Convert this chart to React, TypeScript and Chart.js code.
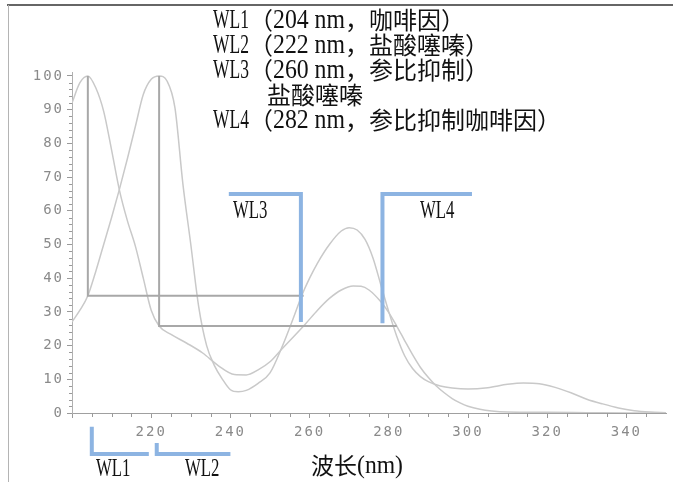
import { useEffect, useRef } from "react";
import { Chart, registerables } from "chart.js";

Chart.register(...registerables);

// Spectrum 1: caffeine (咖啡因)
const caffeineNm = [200, 202, 204, 206, 208, 210, 212, 214, 216, 218, 220, 222, 225, 229, 233, 237, 241, 244, 247, 250, 253, 256, 259, 262, 265, 268, 271, 273, 275, 278, 280, 282, 284, 286, 288, 290, 292, 294, 296, 298, 300, 303, 306, 310, 320, 330, 340, 350];
const caffeineAbs = [92, 98, 100, 96.5, 89.5, 78, 66, 57, 49.5, 40, 30.5, 25.8, 23.3, 20.7, 17.8, 14, 11.4, 11.3, 12.8, 15.2, 19, 22.7, 26.5, 30.5, 34, 36.5, 37.7, 37.6, 36.5, 33, 29.8, 25.8, 21.5, 17.3, 13.5, 10.5, 8, 6, 4.3, 3, 2, 1.1, 0.6, 0.3, 0.2, 0.1, 0, 0];

// Spectrum 2: hydrochlorothiazide (盐酸噻嗪)
const hctzNm = [200, 202, 204, 206, 208, 210, 212, 214, 216, 218, 220, 222, 224, 226, 228, 230, 232, 234, 236, 238, 240, 242, 244, 247, 250, 253, 256, 258, 260, 262, 265, 268, 270, 272, 274, 276, 278, 280, 282, 284, 286, 288, 290, 293, 296, 300, 305, 310, 314, 318, 322, 326, 330, 334, 338, 342, 346, 350];
const hctzAbs = [27, 30.5, 34.8, 42, 50, 58, 66.5, 75.5, 85, 94.5, 99, 100, 98.5, 90.5, 68, 50, 31.5, 20, 14, 10, 6.9, 6.3, 6.7, 8.8, 11.9, 19.5, 28.5, 34.8, 40, 44.5, 50, 54, 55, 54.3, 51.5, 46, 38, 30, 22.8, 17, 13.2, 10.8, 9.3, 8, 7.4, 7.1, 7.5, 8.5, 8.9, 8.7, 7.6, 6, 4.1, 2.7, 1.5, 0.7, 0.3, 0.1];

// Equal-absorbance construction lines
const guide1Nm = [204, 204, 258.5];
const guide1Abs = [100, 34.8, 34.8];
const guide2Nm = [222, 222, 282];
const guide2Abs = [100, 25.8, 25.8];

// Blue wavelength brackets
const bracketWL3Nm = [239.6, 257.8, 257.8];
const bracketWL3Abs = [65, 65, 27];
const bracketWL4Nm = [278.4, 278.4, 301];
const bracketWL4Abs = [26.6, 65, 65];
const bracketWL1Nm = [205, 205, 219.4];
const bracketWL1Abs = [-4.1, -12.2, -12.2];
const bracketWL2Nm = [221.4, 221.4, 240];
const bracketWL2Abs = [-8.9, -12.2, -12.2];

// Axes
const xMin = 200;
const xMax = 350;
const xStep = 20;
const xMinorStep = 5;
const yMin = 0;
const yMax = 101;
const yStep = 10;
const yMinorStep = 2;

const noteLines = [
  "WL1（204 nm，咖啡因）",
  "WL2（222 nm，盐酸噻嗪）",
  "WL3（260 nm，参比抑制）",
  "盐酸噻嗪",
  "WL4（282 nm，参比抑制咖啡因）",
];
const xTitle = "波长(nm)";
const bracketLabels = ["WL1", "WL2", "WL3", "WL4"];

const pts = (xs: number[], ys: number[]) => xs.map((x, i) => ({ x, y: ys[i] }));

function drawMixed(ctx: CanvasRenderingContext2D, text: string, x: number, y: number, size: number) {
  const runs: { s: string; latin: boolean }[] = [];
  for (const ch of text) {
    const latin = ch.charCodeAt(0) < 0x2000;
    const last = runs[runs.length - 1];
    if (last && last.latin === latin) last.s += ch;
    else runs.push({ s: ch, latin });
  }
  ctx.textBaseline = "middle";
  ctx.textAlign = "left";
  let cx = x;
  for (const r of runs) {
    if (r.latin) {
      ctx.font = `${Math.round(size * 1.12)}px "Liberation Serif"`;
      const w = ctx.measureText(r.s).width;
      const target = (r.s.length * size) / 2;
      const sx = Math.max(0.55, Math.min(1.1, target / w));
      ctx.save();
      ctx.translate(cx, y + 1);
      ctx.scale(sx, 1);
      ctx.fillText(r.s, 0, 0);
      ctx.restore();
      cx += target;
    } else {
      ctx.font = `${size}px "Noto Sans CJK SC"`;
      ctx.fillText(r.s, cx, y);
      cx += ctx.measureText(r.s).width;
    }
  }
}

const decorPlugin = {
  id: "decor",
  beforeDraw(chart: any) {
    const ctx = chart.ctx as CanvasRenderingContext2D;
    ctx.save();
    ctx.fillStyle = "#ffffff";
    ctx.fillRect(0, 0, chart.width, chart.height);
    ctx.strokeStyle = "#666666";
    ctx.lineWidth = 2;
    ctx.beginPath();
    ctx.moveTo(7, 5);
    ctx.lineTo(chart.width - 6, 5);
    ctx.stroke();
    ctx.strokeStyle = "#b4b4b4";
    ctx.lineWidth = 1;
    ctx.beginPath();
    ctx.moveTo(8.5, 5);
    ctx.lineTo(8.5, chart.height);
    ctx.stroke();
    ctx.restore();
    (ctx as any).letterSpacing = "2px";
  },
  beforeDatasetsDraw(chart: any) {
    (chart.ctx as any).letterSpacing = "0px";
  },
  afterDraw(chart: any) {
    const ctx = chart.ctx as CanvasRenderingContext2D;
    const xs = chart.scales.x;
    const ys = chart.scales.y;
    const { left, bottom } = chart.chartArea;
    ctx.save();
    (ctx as any).letterSpacing = "0px";
    ctx.strokeStyle = "#9a9a9a";
    ctx.lineWidth = 1;
    ctx.beginPath();
    for (let v = yMin; v <= 100; v += yMinorStep) {
      if (v % yStep === 0) continue;
      const py = Math.round(ys.getPixelForValue(v)) + 0.5;
      ctx.moveTo(left - 3, py);
      ctx.lineTo(left, py);
    }
    for (let v = xMin + xMinorStep; v < xMax; v += xMinorStep) {
      if (v % xStep === 0) continue;
      const px = Math.round(xs.getPixelForValue(v)) + 0.5;
      ctx.moveTo(px, bottom);
      ctx.lineTo(px, bottom + 4);
    }
    ctx.stroke();

    ctx.fillStyle = "#111111";
    const lineX = [213, 213, 213, 267, 213];
    noteLines.forEach((t, i) => drawMixed(ctx, t, lineX[i], 20 + i * 25, 24));
    drawMixed(ctx, bracketLabels[2], 233, 210, 23);
    drawMixed(ctx, bracketLabels[3], 420, 210, 23);
    drawMixed(ctx, bracketLabels[0], 96, 468, 23);
    drawMixed(ctx, bracketLabels[1], 185, 468, 23);
    drawMixed(ctx, xTitle, 311, 465, 23);
    ctx.restore();
  },
};

const curveStyle = {
  borderColor: "#c9c9c9",
  borderWidth: 1.5,
  pointRadius: 0,
  cubicInterpolationMode: "monotone" as const,
  fill: false,
};
const guideStyle = {
  borderColor: "#a8a8a8",
  borderWidth: 2,
  pointRadius: 0,
  tension: 0,
  fill: false,
};
const blueStyle = {
  borderColor: "#8db4e2",
  borderWidth: 4,
  pointRadius: 0,
  tension: 0,
  fill: false,
  borderCapStyle: "butt" as const,
  borderJoinStyle: "miter" as const,
  clip: false as const,
};

export default function App() {
  const ref = useRef<HTMLCanvasElement | null>(null);
  useEffect(() => {
    if (!ref.current) return;
    const chart = new Chart(ref.current, {
      type: "line",
      data: {
        datasets: [
          { ...blueStyle, data: pts(bracketWL3Nm, bracketWL3Abs) },
          { ...blueStyle, data: pts(bracketWL4Nm, bracketWL4Abs) },
          { ...blueStyle, data: pts(bracketWL1Nm, bracketWL1Abs) },
          { ...blueStyle, data: pts(bracketWL2Nm, bracketWL2Abs) },
          { ...guideStyle, data: pts(guide1Nm, guide1Abs) },
          { ...guideStyle, data: pts(guide2Nm, guide2Abs) },
          { ...curveStyle, label: "咖啡因", data: pts(caffeineNm, caffeineAbs) },
          { ...curveStyle, label: "盐酸噻嗪", data: pts(hctzNm, hctzAbs) },
        ] as any,
      },
      options: {
        animation: false,
        responsive: false,
        devicePixelRatio: 1,
        events: [],
        layout: { padding: { top: 72.6, left: 0, right: 13, bottom: 0 } },
        plugins: { legend: { display: false }, tooltip: { enabled: false } },
        scales: {
          x: {
            type: "linear",
            min: xMin,
            max: xMax,
            afterFit: (s: any) => {
              s.height = 69;
            },
            border: { color: "#a0a0a0", width: 1 },
            grid: { drawOnChartArea: false, drawTicks: true, tickLength: 5, color: "#9a9a9a" },
            ticks: {
              stepSize: xStep,
              includeBounds: false,
              padding: 6,
              maxRotation: 0,
              autoSkip: false,
              color: "#8a8a8a",
              font: { family: '"DejaVu Sans Mono"', size: 14 },
              callback: (v: any) => (v === xMin ? "" : String(v)),
            },
          },
          y: {
            type: "linear",
            min: yMin,
            max: yMax,
            afterFit: (s: any) => {
              s.width = 72;
            },
            border: { color: "#b0b0b0", width: 1 },
            grid: { drawOnChartArea: false, drawTicks: true, tickLength: 5, color: "#9a9a9a" },
            ticks: {
              stepSize: yStep,
              includeBounds: false,
              padding: 3,
              color: "#8a8a8a",
              font: { family: '"DejaVu Sans Mono"', size: 14 },
              callback: (v: any) => String(v),
            },
          },
        },
      } as any,
      plugins: [decorPlugin],
    });
    return () => chart.destroy();
  }, []);
  return (
    <div style={{ position: "fixed", left: 0, top: 0, width: 679, height: 482 }}>
      <canvas ref={ref} width={679} height={482} style={{ display: "block" }} />
    </div>
  );
}
